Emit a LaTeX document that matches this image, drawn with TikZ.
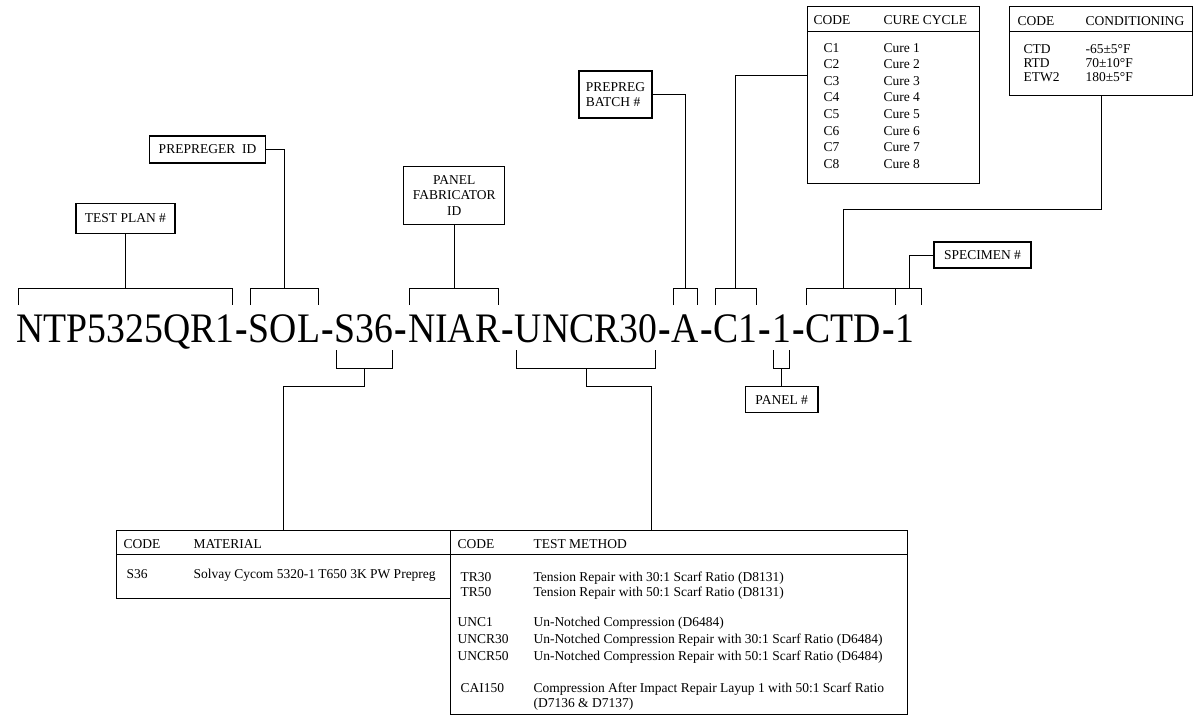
\documentclass[tikz,border=0pt]{standalone}
\usepackage{fontspec}
\setmainfont{Liberation Serif}
\usepackage{tikz}
\usetikzlibrary{positioning}

\newcommand{\upbrk}[1]{\draw ([xshift=2pt]#1.west |- 0,305) |- ([xshift=-2pt]#1.east |- 0,288) -- ++(0,17);}
\newcommand{\dnbrk}[1]{\draw ([xshift=2pt]#1.west |- 0,350) |- ([xshift=-2pt]#1.east |- 0,368) -- ++(0,-18);}

\begin{document}
\begin{tikzpicture}[
    x=1pt, y=-1pt, line width=1pt,
    codetxt/.style={inner sep=0pt, anchor=base west, font=\fontsize{42}{42}\selectfont},
    lbl/.style={draw, line width=1.3pt, inner xsep=9pt, inner ysep=4pt, minimum height=27pt, font=\fontsize{13.5}{15.5}\selectfont, align=center},
    tblframe/.style={draw, line width=1.3pt, inner sep=0pt, anchor=north west},
    txt/.style={inner sep=0pt, anchor=base west, font=\fontsize{13.5}{15.5}\selectfont}
]
    \useasboundingbox (0,0) rectangle (1193,715);

    \node[codetxt] (h0) at (14,342) {};
    \foreach \seg [count=\i] in {NTP5325QR1,SOL,S36,NIAR,UNCR30,A,C1,1,CTD,1}{
        \pgfmathtruncatemacro\j{\i-1}
        \node[codetxt] (s\i) at (h\j.base east) {\scalebox{.898}[1]{\seg}};
        \ifnum\i<10 \node[codetxt] (h\i) at (s\i.base east) {\scalebox{.898}[1]{\textbf{-}}};\fi
    }

    \upbrk{s1} \upbrk{s2} \upbrk{s4} \upbrk{s6} \upbrk{s7}
    \draw ([xshift=1pt]s9.west |- 0,305) |- ([xshift=6pt]s10.east |- 0,288) -- ++(0,17);
    \draw (s10.west |- 0,288) -- (s10.west |- 0,305);
    \dnbrk{s3} \dnbrk{s5} \dnbrk{s8}

    \coordinate (b1) at (s1 |- 0,288);
    \coordinate (b2) at (s2 |- 0,288);
    \coordinate (b4) at (s4 |- 0,288);
    \coordinate (b6) at (s6 |- 0,288);
    \coordinate (b7) at (s7 |- 0,288);
    \coordinate (b9) at (s9 |- 0,288);
    \coordinate (b10) at ([xshift=4pt]s10 |- 0,288);
    \coordinate (m3) at (s3 |- 0,368);
    \coordinate (m5) at (s5 |- 0,368);
    \coordinate (m8) at (s8 |- 0,368);

    \node[lbl, minimum height=30pt, above=54pt of b1] (testplan) {TEST PLAN \#};
    \node[lbl] (prepreger) at (207.5,149.5) {PREPREGER\ \ ID};
    \node[lbl, minimum height=58pt, above=63pt of b4] (fab) {PANEL\\FABRICATOR\\ID};
    \node[lbl, align=left, inner xsep=7pt, minimum height=47pt] (batch) at (615.5,94.5) {PREPREG\\BATCH \#};
    \node[lbl, inner xsep=10pt, minimum height=26pt] (specimen) at (982.5,255) {SPECIMEN \#};
    \node[lbl, inner xsep=10pt, minimum height=26pt, below=18pt of m8] (panel) {PANEL \#};

    \draw (testplan) -- (b1);
    \draw (prepreger.east) -| (b2);
    \draw (fab) -- (b4);
    \draw (batch.east) -| (b6);
    \draw (panel) -- (m8);
    \draw (specimen.west) -| (b10);

    \node[tblframe, minimum width=172pt, minimum height=177pt] (cure) at (807,6) {};
    \draw ([yshift=-25pt]cure.north west) -- ([yshift=-25pt]cure.north east);
    \node[txt] (curecode) at (813,24) {CODE};
    \node[txt] (curehead) at (883,24) {CURE CYCLE};
    \foreach \i in {1,...,8}{
        \node[txt] (c\i) at (823,35.7+16.57*\i) {C\i};
        \node[txt] (cure\i) at (883,35.7+16.57*\i) {Cure \i};
    }
    \draw ([yshift=20pt]cure.west) -| (b7);

    \node[tblframe, minimum width=183pt, minimum height=89pt] (cond) at (1009,6) {};
    \draw ([yshift=-25pt]cond.north west) -- ([yshift=-25pt]cond.north east);
    \node[txt] (condcode) at (1017,25) {CODE};
    \node[txt] (condhead) at (1085,25) {CONDITIONING};
    \foreach \cc/\cv/\yy [count=\k] in {CTD/-65±5°F/53.3, RTD/70±10°F/67.5, ETW2/180±5°F/81.7}{
        \node[txt] (cc\k) at (1023,\yy) {\cc};
        \node[txt] (cv\k) at (1085,\yy) {\cv};
    }
    \draw (cond.south) -- ++(0,113) -| (b9);

    \node[tblframe, minimum width=334pt, minimum height=68pt] (mat) at (116,530) {};
    \draw ([yshift=-24pt]mat.north west) -- ([yshift=-24pt]mat.north east);
    \node[txt] (matcode) at (123,548.3) {CODE};
    \node[txt] (mathead) at (193,548.3) {MATERIAL};
    \node[txt] (mat1) at (126,578.3) {S36};
    \node[txt] (matd1) at (193,578.3) {Solvay Cycom 5320-1 T650 3K PW Prepreg};
    \draw (m3) -- ++(0,18) -| (mat.north);

    \node[tblframe, minimum width=457pt, minimum height=184pt] (tm) at (450,530) {};
    \draw ([yshift=-24pt]tm.north west) -- ([yshift=-24pt]tm.north east);
    \node[txt] (tmcode) at (457,548.3) {CODE};
    \node[txt] (tmhead) at (533,548.3) {TEST METHOD};
    \foreach \tc/\tx/\td/\yy [count=\k] in {
        TR30/460/Tension Repair with 30:1 Scarf Ratio (D8131)/581,
        TR50/460/Tension Repair with 50:1 Scarf Ratio (D8131)/596,
        UNC1/457/Un-Notched Compression (D6484)/626.7,
        UNCR30/457/Un-Notched Compression Repair with 30:1 Scarf Ratio (D6484)/643.3,
        UNCR50/457/Un-Notched Compression Repair with 50:1 Scarf Ratio (D6484)/660,
        CAI150/460/Compression After Impact Repair Layup 1 with 50:1 Scarf Ratio/692.7}{
        \node[txt] (tc\k) at (\tx,\yy) {\tc};
        \node[txt] (td\k) at (533,\yy) {\td};
    }
    \node[txt] (td7) at (533,707.5) {(D7136 \& D7137)};
    \draw (m5) -- ++(0,18) -| ([xshift=-28pt]tm.north);
\end{tikzpicture}
\end{document}
